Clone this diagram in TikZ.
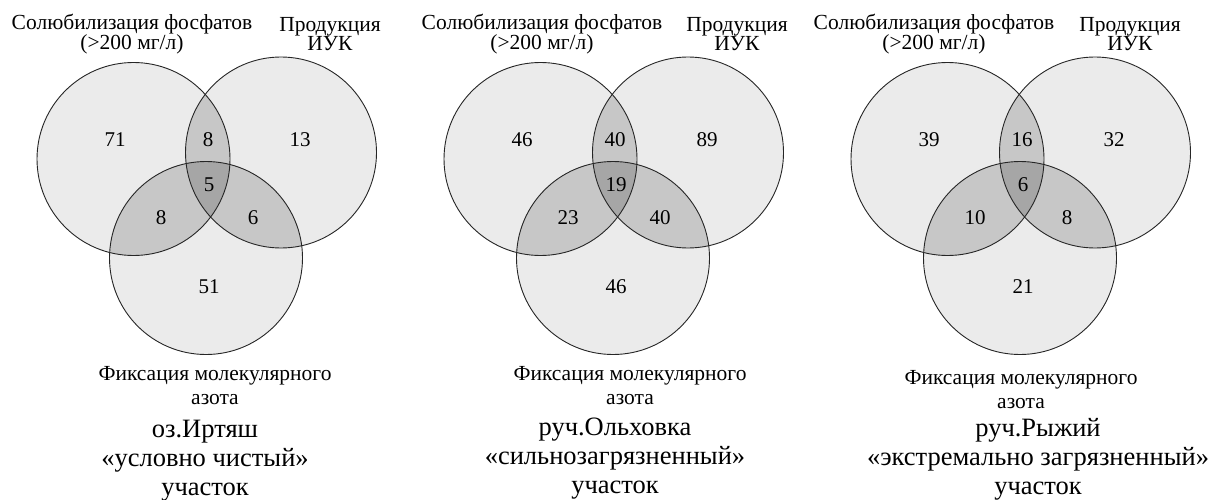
\documentclass[tikz,border=0pt]{standalone}
\usepackage{fontspec}
\setmainfont{Liberation Serif}
\newfontfamily\vennfont{Liberation Serif}

\begin{document}
\begin{tikzpicture}[x=1pt,y=-1pt,
    single/.style={fill=black!8},
    pair/.style={fill=black!22},
    triple/.style={fill=black!35},
    ring/.style={draw=black!85,line width=0.9pt},
    setlabel/.style={font=\vennfont\fontsize{21.5}{19}\selectfont,align=center,inner sep=0pt},
    fixlabel/.style={font=\vennfont\fontsize{21.5}{24}\selectfont,align=center,inner sep=0pt},
    sitelabel/.style={font=\vennfont\fontsize{26.5}{29}\selectfont,align=center,inner sep=0pt},
    count/.style={font=\vennfont\fontsize{21}{21}\selectfont,inner sep=0pt}]
    \useasboundingbox (0,0) rectangle (1220,500);

    % three diagrams, shifted along x
    \foreach \s/\na/\nab/\nb/\nabc/\nac/\nbc/\nc [count=\i] in
        {0/71/8/13/5/8/6/51, 407/46/40/89/19/23/40/46, 814/39/16/32/6/10/8/21}{
        \begin{scope}[xshift=\s]
            \coordinate (a\i) at (133.5,159);
            \coordinate (b\i) at (281,152.5);
            \coordinate (c\i) at (206,258);
            \fill[single] (a\i) circle (96.5);
            \fill[single] (b\i) circle (95.5);
            \fill[single] (c\i) circle (96.5);
            \begin{scope}
                \clip (a\i) circle (96.5);
                \fill[pair] (b\i) circle (95.5);
                \fill[pair] (c\i) circle (96.5);
            \end{scope}
            \begin{scope}
                \clip (b\i) circle (95.5);
                \fill[pair] (c\i) circle (96.5);
            \end{scope}
            \begin{scope}
                \clip (a\i) circle (96.5);
                \clip (b\i) circle (95.5);
                \fill[triple] (c\i) circle (96.5);
            \end{scope}
            \draw[ring] (a\i) circle (96.5);
            \draw[ring] (b\i) circle (95.5);
            \draw[ring] (c\i) circle (96.5);
            \node[count] (na\i) at (115,140) {\na};
            \node[count] (nab\i) at (208,140) {\nab};
            \node[count] (nb\i) at (300,140) {\nb};
            \node[count] (nabc\i) at (209,185) {\nabc};
            \node[count] (nac\i) at (161,218) {\nac};
            \node[count] (nbc\i) at (253,218) {\nbc};
            \node[count] (nc\i) at (209,287) {\nc};
        \end{scope}
    }

    % set names
    \node[setlabel] (sol1) at (132,34) {Солюбилизация фосфатов\\(>200 мг/л)};
    \node[setlabel] (iuk1) at (330,34) {Продукция\\ИУК};
    \node[fixlabel] (fix1) at (215,386) {Фиксация молекулярного\\азота};
    \node[setlabel] (sol2) at (542,34) {Солюбилизация фосфатов\\(>200 мг/л)};
    \node[setlabel] (iuk2) at (737,34) {Продукция\\ИУК};
    \node[fixlabel] (fix2) at (630,386) {Фиксация молекулярного\\азота};
    \node[setlabel] (sol3) at (934,34) {Солюбилизация фосфатов\\(>200 мг/л)};
    \node[setlabel] (iuk3) at (1130,34) {Продукция\\ИУК};
    \node[fixlabel] (fix3) at (1021,390) {Фиксация молекулярного\\азота};

    % sites
    \node[sitelabel] (site1) at (205,461) {оз.Иртяш\\«условно чистый»\\участок};
    \node[sitelabel] (site2) at (615,459) {руч.Ольховка\\«сильнозагрязненный»\\участок};
    \node[sitelabel] (site3) at (1038,459) {руч.Рыжий\\«экстремально загрязненный»\\участок};
\end{tikzpicture}
\end{document}
